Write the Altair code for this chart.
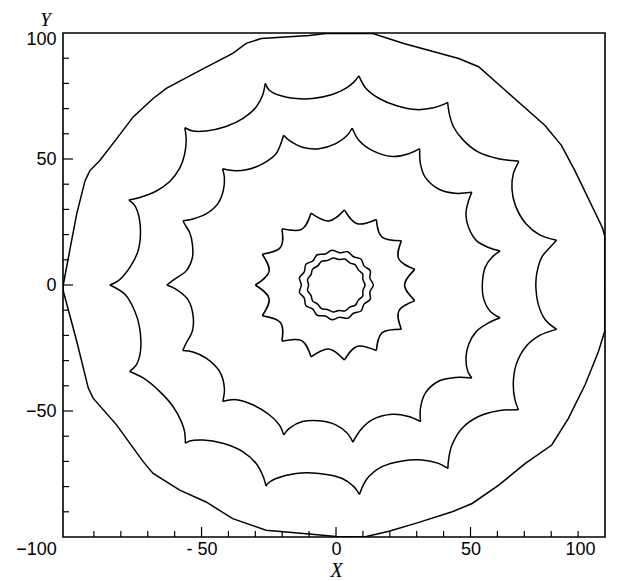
import altair as alt
import pandas as pd

# ---- outer polygon (closed) ----
outer_x = [-101.4, -99.5, -96.4, -93.3, -91.5, -87.8, -81.6, -75.4, -68.0, -63.1, -50.7, -38.4, -33.4, -27.8,
           -10.0, -3.8, 13.4, 25.2, 45.6, 53.0, 62.9, 77.7, 83.8, 88.8, 99.0, 99.9, 99.9, 97.6, 92.6, 86.4,
           80.2, 70.4, 60.5, 50.6, 43.2, 30.8, 19.7, 10.5, 0.0, -10.0, -26.0, -38.4, -48.3, -58.1, -68.0,
           -71.7, -81.6, -90.3, -92.1, -96.4, -101.4]
outer_y = [0.0, 10.9, 28.2, 41.4, 45.4, 49.4, 58.0, 66.7, 74.0, 78.0, 85.1, 91.9, 95.9, 97.8, 99.0, 99.8,
           99.9, 95.8, 89.9, 86.6, 77.3, 63.3, 55.4, 45.4, 22.8, 19.5, -18.3, -26.3, -39.6, -52.9, -63.5,
           -70.8, -79.4, -86.7, -90.0, -94.2, -97.7, -100.0, -99.8, -98.8, -97.3, -92.7, -86.1, -81.4, -74.8,
           -70.1, -55.5, -44.9, -40.9, -22.3, -2.4]

# ---- large scalloped curve ----
big_x = [-84.1, -81.0, -76.7, -73.6, -72.7, -73.2, -74.8, -77.0, -72.4, -66.8, -61.9, -58.1, -56.3, -55.7,
         -56.2, -53.2, -48.3, -40.9, -34.7, -29.7, -27.3, -26.3, -24.8, -21.1, -14.9, -8.8, -1.4, 3.6, 6.7,
         8.5, 11.1, 15.9, 22.6, 30.0, 36.3, 39.6, 41.5, 42.1, 43.7, 47.4, 53.0, 60.4, 65.3, 68.0, 65.9, 65.4,
         66.7, 70.7, 75.7, 82.0, 79.5, 76.4, 74.6, 74.3, 75.2, 77.7, 82.0, 75.9, 70.7, 67.0, 65.9, 66.5, 67.8,
         60.4, 53.0, 46.8, 43.1, 41.9, 41.6, 38.1, 32.0, 24.6, 17.1, 11.6, 8.7, 6.7, 2.3, -6.3, -14.9, -22.3,
         -25.4, -26.0, -27.3, -29.7, -34.7, -42.1, -49.5, -54.4, -56.0, -56.3, -57.5, -60.6, -65.6, -71.7,
         -76.7, -74.2, -72.7, -73.0, -74.8, -78.5, -84.1]
big_y = [0.0, 1.6, 6.9, 13.5, 20.2, 26.8, 31.5, 33.7, 34.9, 37.3, 41.0, 46.4, 51.8, 57.4, 62.4, 61.1, 61.1,
         62.9, 66.0, 70.6, 75.3, 80.0, 77.3, 75.3, 74.0, 74.0, 75.6, 78.0, 80.6, 83.0, 78.1, 74.1, 71.1, 69.6,
         70.3, 71.5, 72.5, 68.0, 62.7, 57.4, 52.7, 50.1, 49.4, 49.1, 44.1, 38.2, 31.5, 24.2, 19.9, 17.8, 14.9,
         10.9, 4.3, -1.1, -7.7, -13.7, -17.6, -19.9, -24.3, -31.5, -39.4, -45.4, -49.5, -49.9, -52.2, -56.9,
         -63.5, -68.8, -72.8, -70.8, -69.4, -69.8, -72.1, -76.8, -83.1, -80.1, -76.8, -74.8, -74.8, -76.8,
         -78.8, -79.8, -75.4, -70.8, -66.1, -62.8, -61.5, -61.9, -62.8, -58.2, -54.2, -48.2, -42.2, -36.9,
         -34.3, -31.6, -26.3, -17.0, -10.4, -3.7, 0.0]
big_cusps = [0, 7, 14, 21, 29, 36, 43, 49, 56, 62, 68, 74, 81, 88, 94, 100]

# ---- middle scalloped curve ----
mid_x = [-62.9, -60.0, -55.7, -53.4, -53.4, -54.4, -56.3, -56.9, -53.2, -48.3, -44.0, -41.9, -41.5, -42.2,
         -38.4, -33.4, -27.3, -22.3, -20.5, -19.5, -17.4, -12.5, -6.3, -0.1, 4.2, 6.0, 8.5, 13.4, 20.9, 27.0,
         31.1, 31.4, 33.2, 38.1, 44.3, 50.5, 49.3, 48.3, 49.3, 52.3, 56.7, 61.0, 57.9, 55.4, 54.4, 54.8, 57.3,
         61.0, 56.7, 52.3, 49.3, 48.3, 49.0, 50.5, 44.3, 38.1, 33.2, 31.4, 31.4, 27.0, 20.9, 13.4, 9.1, 6.3,
         4.2, -0.1, -6.3, -12.5, -17.4, -19.4, -21.1, -24.8, -31.0, -37.1, -42.1, -41.5, -43.3, -48.3, -53.2,
         -57.0, -55.7, -53.4, -53.2, -55.1, -59.4, -62.9]
mid_y = [0.0, 2.3, 5.6, 10.9, 16.2, 20.8, 24.2, 25.5, 26.2, 28.2, 32.2, 37.5, 42.7, 46.1, 45.4, 45.7, 48.1,
         52.1, 56.1, 59.4, 57.4, 54.7, 54.1, 56.1, 59.4, 62.3, 57.4, 53.4, 51.0, 52.1, 54.1, 48.1, 42.7, 38.1,
         36.4, 36.8, 33.5, 28.2, 22.8, 17.5, 14.9, 13.5, 10.9, 6.9, 0.3, -5.1, -10.4, -13.0, -15.0, -18.3,
         -23.6, -29.0, -34.3, -36.9, -36.7, -38.2, -42.9, -48.9, -54.2, -52.2, -51.3, -53.5, -57.5, -62.4,
         -58.8, -55.5, -53.9, -54.2, -56.9, -59.5, -55.5, -51.5, -47.5, -45.5, -46.2, -40.9, -34.3, -29.0,
         -26.6, -26.0, -23.0, -18.3, -11.7, -5.7, -1.7, 0.0]
mid_cusps = [0, 7, 13, 19, 25, 30, 35, 41, 47, 53, 58, 63, 69, 74, 79, 85]

# ---- star ----
star_peak_x = [-30.0, -27.4, -20.1, -9.3, 3.1, 15.0, 24.3, 29.3, 29.3, 24.3, 15.0, 3.1, -9.3, -20.1, -27.4]
star_peak_y = [0.0, 12.2, 22.3, 28.5, 29.8, 26.0, 17.6, 6.2, -6.2, -17.6, -26.0, -29.8, -28.5, -22.3, -12.2]
star_valley_x = [-24.9, -20.6, -12.8, -2.7, 7.9, 17.1, 23.3, 25.5, 23.3, 17.1, 7.9, -2.7, -12.8, -20.6, -24.9]
star_valley_y = [5.3, 15.0, 22.1, 25.4, 24.3, 19.0, 10.4, 0.0, -10.4, -19.0, -24.3, -25.4, -22.1, -15.0, -5.3]

# ---- inner rings ----
ring_a_x = [13.9, 12.6, 12.7, 10.4, 9.3, 6.5, 4.3, 1.3, -1.5, -4.0, -7.0, -8.6, -11.2, -11.8, -13.6, -12.9,
            -13.6, -11.8, -11.2, -8.6, -7.0, -4.0, -1.5, 1.3, 4.3, 6.5, 9.3, 10.4, 12.7, 12.6]
ring_a_y = [0.0, 2.7, 5.7, 7.6, 10.3, 11.2, 13.2, 12.8, 13.8, 12.3, 12.0, 9.6, 8.2, 5.2, 2.9, 0.0,
            -2.9, -5.2, -8.2, -9.6, -12.0, -12.3, -13.8, -12.8, -13.2, -11.2, -10.3, -7.6, -5.7, -2.7]
ring_b_x = [10.8, 10.0, 9.9, 8.3, 7.2, 5.1, 3.3, 1.1, -1.1, -3.2, -5.4, -6.8, -8.7, -9.3, -10.6, -10.2,
            -10.6, -9.3, -8.7, -6.8, -5.4, -3.2, -1.1, 1.1, 3.3, 5.1, 7.2, 8.3, 9.9, 10.0]
ring_b_y = [0.0, 2.1, 4.4, 6.0, 8.0, 8.8, 10.3, 10.1, 10.7, 9.7, 9.4, 7.6, 6.3, 4.1, 2.2, 0.0,
            -2.2, -4.1, -6.3, -7.6, -9.4, -9.7, -10.7, -10.1, -10.3, -8.8, -8.0, -6.0, -4.4, -2.1]

# ---- ticks ----
x_labels = [-100, -50, 0, 50, 100]
y_labels = [-50, 0, 50, 100]
x_major = [-50, 0, 50]
x_minor = [-90, -80, -70, -60, -40, -30, -20, -10, 10, 20, 30, 40, 60, 70, 80, 90]
y_major = [-50, 0, 50]
y_minor = [-90, -80, -70, -60, -40, -30, -20, -10, 10, 20, 30, 40, 60, 70, 80, 90]


def arcs_table(xs, ys, cusps, name):
    rows = []
    for k in range(len(cusps) - 1):
        for i in range(cusps[k], cusps[k + 1] + 1):
            rows.append({"x": xs[i], "y": ys[i], "arc": f"{name}{k}", "ord": i})
    return pd.DataFrame(rows)


arcs_df = pd.concat([arcs_table(big_x, big_y, big_cusps, "b"),
                     arcs_table(mid_x, mid_y, mid_cusps, "m")], ignore_index=True)

star_rows = []
n = len(star_peak_x)
for k in range(n):
    j = (k + 1) % n
    star_rows.append({"x": star_peak_x[k], "y": star_peak_y[k], "arc": f"s{k}", "ord": 0})
    star_rows.append({"x": star_valley_x[k], "y": star_valley_y[k], "arc": f"s{k}", "ord": 1})
    star_rows.append({"x": star_peak_x[j], "y": star_peak_y[j], "arc": f"s{k}", "ord": 2})
star_df = pd.DataFrame(star_rows)

outer_df = pd.DataFrame({"x": outer_x, "y": outer_y, "ord": range(len(outer_x))})
rings_df = pd.concat([
    pd.DataFrame({"x": ring_a_x, "y": ring_a_y, "ring": "a", "ord": range(len(ring_a_x))}),
    pd.DataFrame({"x": ring_b_x, "y": ring_b_y, "ring": "b", "ord": range(len(ring_b_x))}),
], ignore_index=True)

W, H = 542, 504
x_scale = alt.Scale(domain=[-101.5, 100], nice=False, zero=False)
y_scale = alt.Scale(domain=[-100, 100], nice=False, zero=False)

x_axis = alt.Axis(
    values=x_labels, ticks=False, domain=False, grid=False,
    labelExpr="datum.value == -50 ? '- 50' : datum.label",
    labelOffset={"condition": [{"test": "datum.value == -100", "value": -31},
                               {"test": "datum.value == 100", "value": -10}], "value": 0},
    labelPadding=3, labelBaseline="top", labelOverlap=False,
    title="X", titleFont="Liberation Serif", titleFontStyle="italic", titleFontWeight="normal",
    titleFontSize=20, titleX=273, titleY=39, titleAlign="center", titleBaseline="alphabetic",
)
y_axis = alt.Axis(
    values=y_labels, ticks=False, domain=False, grid=False,
    labelOffset={"condition": {"test": "datum.value == 100", "value": 6}, "value": 0},
    labelPadding=7, labelBaseline="middle", labelOverlap=False,
    title="Y", titleAngle=0, titleFont="Liberation Serif", titleFontStyle="italic",
    titleFontWeight="normal", titleFontSize=19, titleX=-18, titleY=-8,
    titleAlign="center", titleBaseline="alphabetic",
)

X = alt.X("x:Q", scale=x_scale, axis=x_axis)
Y = alt.Y("y:Q", scale=y_scale, axis=y_axis)
LW = 1.5
COL = "#000000"

outer = alt.Chart(outer_df).mark_line(color=COL, strokeWidth=LW, interpolate="linear-closed", clip=True).encode(
    x=X, y=Y, order="ord:Q")
arcs = alt.Chart(arcs_df).mark_line(color=COL, strokeWidth=LW, interpolate="catmull-rom").encode(
    x=X, y=Y, detail="arc:N", order="ord:Q")
star = alt.Chart(star_df).mark_line(color=COL, strokeWidth=LW, interpolate="natural").encode(
    x=X, y=Y, detail="arc:N", order="ord:Q")
rings = alt.Chart(rings_df).mark_line(color=COL, strokeWidth=LW, interpolate="cardinal-closed").encode(
    x=X, y=Y, detail="ring:N", order="ord:Q")

xmaj = alt.Chart(pd.DataFrame({"x": x_major})).mark_rule(color=COL, strokeWidth=1.2).encode(
    x=X, y=alt.value(H), y2=alt.value(H - 10))
xmin = alt.Chart(pd.DataFrame({"x": x_minor})).mark_rule(color=COL, strokeWidth=1.2).encode(
    x=X, y=alt.value(H), y2=alt.value(H - 6))
ymaj = alt.Chart(pd.DataFrame({"y": y_major})).mark_rule(color=COL, strokeWidth=1.2).encode(
    y=Y, x=alt.value(0), x2=alt.value(10))
ymin = alt.Chart(pd.DataFrame({"y": y_minor})).mark_rule(color=COL, strokeWidth=1.2).encode(
    y=Y, x=alt.value(0), x2=alt.value(6))

chart = alt.layer(outer, arcs, star, rings, xmaj, xmin, ymaj, ymin).properties(
    width=W, height=H,
    padding={"left": 55, "top": 25, "right": 5, "bottom": 44},
    autosize=alt.AutoSizeParams(type="none"),
).configure_view(stroke="#000000", strokeWidth=1.6).configure_axis(
    labelFont="Liberation Sans", labelFontSize=18, labelColor="#000000", titleColor="#000000"
)

chart.save("out.html", embed_options={"renderer": "svg", "actions": False})
